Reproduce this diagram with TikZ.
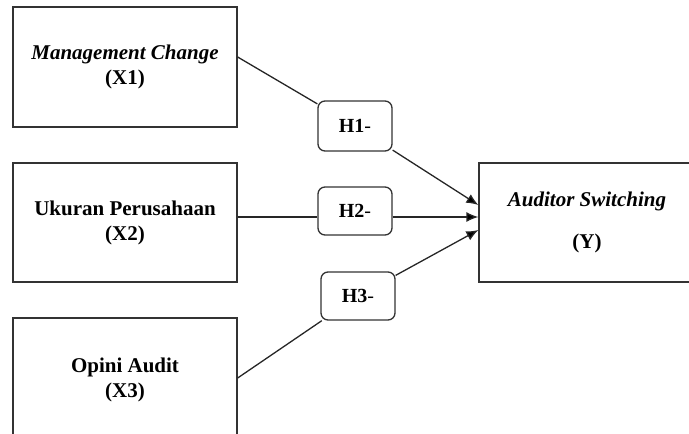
\documentclass[tikz,border=0pt]{standalone}
\usepackage{fontspec}
\setmainfont{Liberation Serif}
\usetikzlibrary{arrows.meta}

\begin{document}
\begin{tikzpicture}[x=1pt,y=-1pt]
    %styles
    \tikzstyle{var}=[rectangle,draw=black!80,line width=1.3pt,align=center,inner sep=0pt,minimum width=224pt,minimum height=120pt,font=\fontsize{21}{25}\selectfont\bfseries]
    \tikzstyle{hypo}=[rectangle,rounded corners=7pt,draw=black!80,line width=1.3pt,fill=white,inner sep=0pt,minimum width=74pt,minimum height=48pt,font=\fontsize{20}{24}\selectfont]
    \tikzstyle{link}=[line width=1.3pt,draw=black!85]
    \tikzstyle{effect}=[link,-{Latex[length=12pt,width=10pt,fill=black]}]
    \useasboundingbox (0,0) rectangle (689,434);
    \clip (0,0) rectangle (689,434);
    %nodes
    \node[var] (x1) at (125,67) {\textit{Management Change}\\(X1)};
    \node[var,minimum height=119pt] (x2) at (125,222.5) {Ukuran Perusahaan\\(X2)};
    \node[var,minimum height=124pt] (x3) at (125,380) {Opini Audit\\(X3)};
    \node[var,minimum width=216pt,minimum height=119pt] (aud) at (587,222.5) {\textit{Auditor Switching}\\[17pt](Y)};
    \node[hypo,minimum height=50pt] (h1) at (355,126) {\textbf{H1}-};
    \node[hypo] (h2) at (355,211) {\textbf{H2}-};
    \node[hypo] (h3) at (358,296) {\textbf{H3}-};
    \coordinate (s1) at ([yshift=10pt]x1.east);
    \coordinate (s2) at ([yshift=5.5pt]x2.east);
    \coordinate (s3) at ([yshift=2pt]x3.east);
    \coordinate (t1) at ([yshift=17.5pt]aud.west);
    \coordinate (t2) at ([yshift=5.5pt]aud.west);
    \coordinate (t3) at ([yshift=-7.5pt]aud.west);

    %arrows
    \draw[link] (s1)--(h1);
    \draw[effect] (h1)--(t1);
    \draw[link] (s2)--(s2 -| h2.west);
    \draw[effect] (s2 -| h2.east)--(t2);
    \draw[link] (s3)--(h3);
    \draw[effect] (h3)--(t3);
\end{tikzpicture}
\end{document}
